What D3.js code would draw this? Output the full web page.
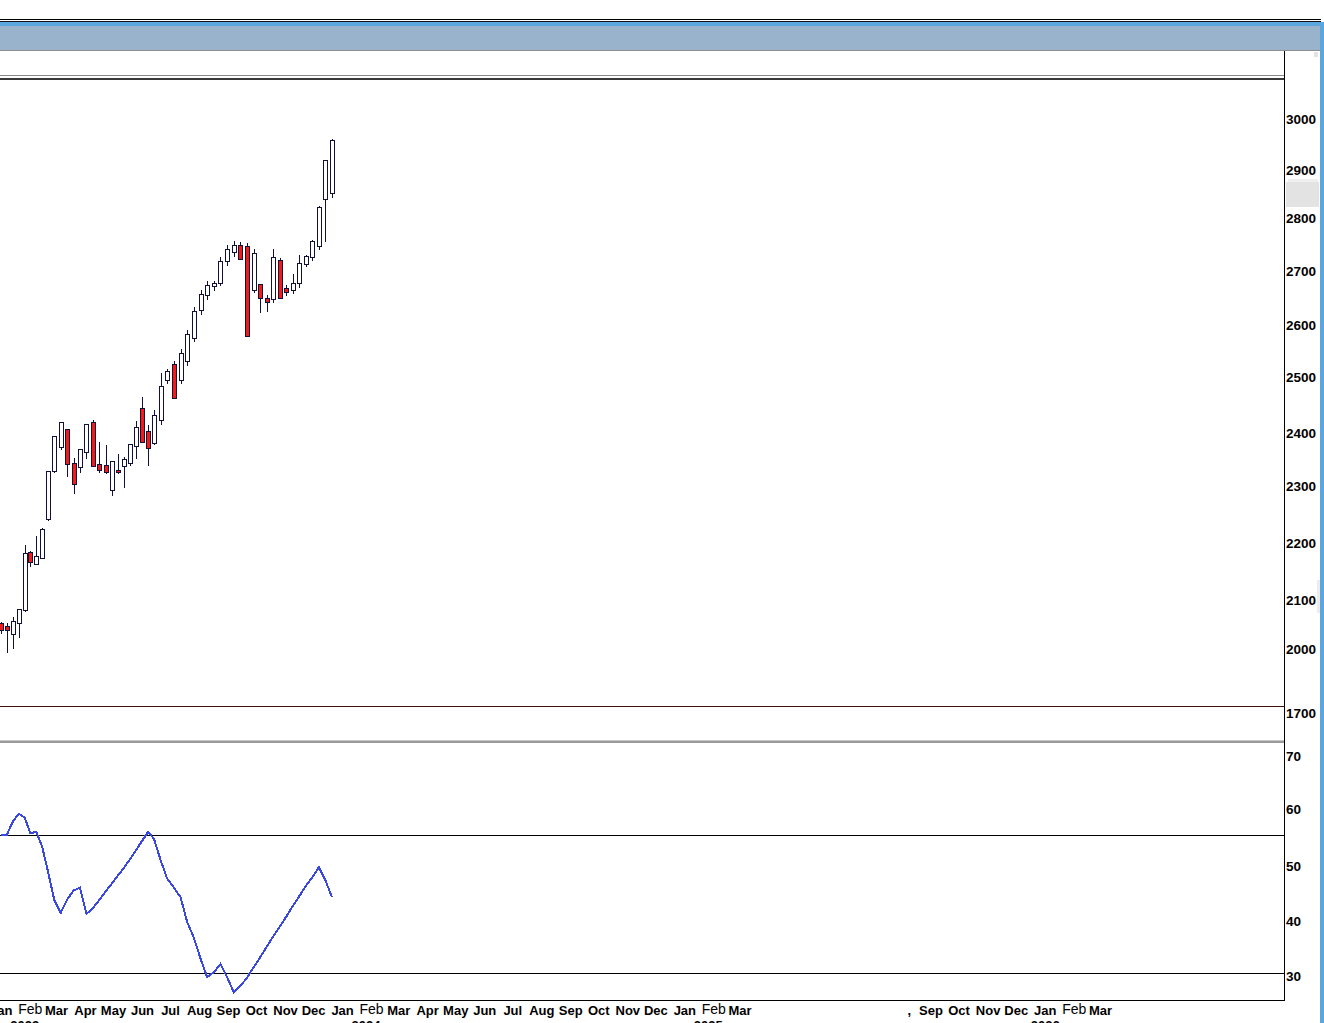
<!DOCTYPE html>
<html>
<head>
<meta charset="utf-8">
<script src="https://cdn.jsdelivr.net/npm/d3@7"></script>
<style>
  html, body { margin: 0; padding: 0; background: #fff; overflow: hidden; }
  svg { display: block; }
  text { font-family: "Liberation Sans", Arial, sans-serif; fill: #000; }
</style>
</head>
<body>
<svg id="chart" width="1324" height="1023"></svg>
<script>
// ---------------- DATA ----------------
const openVals  = [2053,2048,2032,2053,2080,2184,2163,2173,2242,2330,2373,2407,2344,2336,2365,2419,2342,2340,2294,2331,2338,2344,2375,2444,2403,2381,2423,2495,2525,2495,2531,2576,2629,2656,2673,2680,2719,2736,2749,2747,2667,2677,2651,2649,2721,2669,2666,2679,2714,2727,2747,2839,2852];
const highVals  = [2056,2053,2066,2081,2196,2186,2213,2227,2330,2394,2419,2407,2353,2370,2417,2423,2383,2378,2347,2361,2356,2379,2422,2465,2414,2441,2508,2516,2532,2555,2592,2634,2666,2683,2683,2727,2749,2757,2755,2753,2742,2677,2656,2742,2725,2675,2695,2731,2731,2759,2825,2920,2961];
const lowVals   = [2033,1989,2002,2024,2078,2160,2163,2173,2240,2328,2371,2320,2288,2328,2354,2338,2328,2326,2286,2325,2300,2341,2354,2383,2341,2379,2417,2489,2462,2489,2524,2570,2622,2650,2667,2675,2713,2730,2723,2580,2662,2625,2627,2643,2651,2656,2660,2672,2710,2721,2742,2758,2844];
const closeVals = [2039,2039,2057,2081,2182,2166,2178,2224,2330,2394,2419,2342,2305,2370,2417,2338,2331,2328,2347,2327,2351,2379,2410,2383,2372,2432,2484,2512,2462,2547,2583,2627,2658,2675,2679,2719,2742,2749,2723,2580,2734,2651,2643,2727,2651,2662,2680,2716,2729,2757,2823,2920,2959];
const rsiVals   = [55.5,55.5,57.8,59.2,58.6,55.8,56.0,53.4,49.0,43.8,41.6,44.0,45.6,46.1,41.4,42.4,43.9,45.4,46.9,48.3,49.7,51.2,52.8,54.4,56.0,54.8,51.0,47.7,46.1,44.4,39.9,37.1,33.3,29.9,30.8,32.3,29.9,27.2,28.3,29.8,31.7,33.5,35.4,37.3,39.1,40.9,42.8,44.6,46.4,48.0,49.8,47.4,44.4];
const rsiLevels = [55.4, 30.6];

const priceTicks = [3000,2900,2800,2700,2600,2500,2400,2300,2200,2100,2000,1700];
const rsiTicks   = [70,60,50,40,30];

const monthDates  = ["2023-01-01","2023-02-01","2023-03-01","2023-04-01","2023-05-01","2023-06-01","2023-07-01","2023-08-01","2023-09-01","2023-10-01","2023-11-01","2023-12-01",
                     "2024-01-01","2024-02-01","2024-03-01","2024-04-01","2024-05-01","2024-06-01","2024-07-01","2024-08-01","2024-09-01","2024-10-01","2024-11-01","2024-12-01",
                     "2025-01-01","2025-02-01","2025-03-01","2025-08-11","2025-09-01","2025-10-01","2025-11-01","2025-12-01","2026-01-01","2026-02-01","2026-03-01"];
const monthLabels = ["Jan","Feb","Mar","Apr","May","Jun","Jul","Aug","Sep","Oct","Nov","Dec",
                     "Jan","Feb","Mar","Apr","May","Jun","Jul","Aug","Sep","Oct","Nov","Dec",
                     "Jan","Feb","Mar",",","Sep","Oct","Nov","Dec","Jan","Feb","Mar"];
const yearDates  = ["2023-01-26","2024-01-26","2025-01-26","2026-01-01"];
const yearLabels = ["2023","2024","2025","2026"];

// ---------------- SCALES ----------------
const parse = d3.utcParse("%Y-%m-%d");
const xC = d3.scaleLinear().domain([0, 8, 18, 25, 39, 52]).range([1, 48, 112, 154, 247, 332]);
const xT = d3.scaleUtc()
  .domain([parse("2023-01-01"), parse("2025-03-01"), parse("2025-09-01"), parse("2026-03-01")])
  .range([1.3, 740, 931, 1100.5]);
const yP = d3.scaleLinear()
  .domain([1700,2000,2100,2200,2300,2400,2500,2600,2700,2800,2900,3000])
  .range([713.3,649.3,600,543,486.7,433,377.3,325.7,271.7,218,170,119.3]);
const yR = d3.scaleLinear()
  .domain([20,30,40,50,60,70])
  .range([1031.7,976.7,921.7,866,809.3,756.7]);

const svg = d3.select("#chart");
const W = 1324, axisX = 1284;

// ---------------- FRAME ----------------
svg.append("rect").attr("x",0).attr("y",0).attr("width",W).attr("height",1023).attr("fill","#fff");
svg.append("rect").attr("x",0).attr("y",19).attr("width",1321).attr("height",1).attr("fill","#000");
svg.append("rect").attr("x",0).attr("y",21).attr("width",1321).attr("height",1).attr("fill","#111");
svg.append("rect").attr("x",0).attr("y",22).attr("width",W).attr("height",4).attr("fill","#5ba6de");
svg.append("rect").attr("x",0).attr("y",26).attr("width",1320).attr("height",24).attr("fill","#99b3cd");
svg.append("rect").attr("x",0).attr("y",50).attr("width",1320).attr("height",1).attr("fill","#8e8e8e");
svg.append("rect").attr("x",1320).attr("y",22).attr("width",4).attr("height",1001).attr("fill","#5ba6de");

const frame = svg.append("g").attr("shape-rendering","crispEdges");
frame.append("rect").attr("x",0).attr("y",75).attr("width",axisX).attr("height",1).attr("fill","#8a8a8a");
frame.append("rect").attr("x",0).attr("y",78).attr("width",axisX).attr("height",2).attr("fill","#3a3a3a");
frame.append("rect").attr("x",0).attr("y",706).attr("width",axisX).attr("height",1).attr("fill","#3a1208");
frame.append("rect").attr("x",0).attr("y",740).attr("width",axisX).attr("height",1).attr("fill","#c8c8c8");
frame.append("rect").attr("x",0).attr("y",741).attr("width",axisX).attr("height",2).attr("fill","#9a9a9a");
frame.append("rect").attr("x",0).attr("y",1000).attr("width",axisX+1).attr("height",1).attr("fill","#000");
frame.append("rect").attr("x",axisX).attr("y",51).attr("width",1).attr("height",950).attr("fill","#000");
frame.append("rect").attr("x",1314).attr("y",52).attr("width",4).attr("height",5).attr("fill","#e2e2e2");
frame.append("rect").attr("x",1288).attr("y",179).attr("width",30).attr("height",3).attr("fill","#efefef");
frame.append("rect").attr("x",1286).attr("y",182).attr("width",33).attr("height",25).attr("fill","#e3e3e3");
frame.append("rect").attr("x",1317).attr("y",580).attr("width",3).attr("height",33).attr("fill","#ececec");

frame.selectAll(".lvl").data(rsiLevels).enter().append("line")
  .attr("x1",0).attr("x2",axisX)
  .attr("y1",d => Math.round(yR(d)) + 0.5).attr("y2",d => Math.round(yR(d)) + 0.5)
  .attr("stroke","#000").attr("stroke-width",1);

// ---------------- CANDLES ----------------
const idx = d3.range(openVals.length);
const cg = svg.append("g").attr("shape-rendering","crispEdges");
cg.selectAll(".wick").data(idx).enter().append("line")
  .attr("x1", i => Math.round(xC(i)) + 0.5).attr("x2", i => Math.round(xC(i)) + 0.5)
  .attr("y1", i => Math.round(yP(highVals[i])))
  .attr("y2", i => Math.round(yP(lowVals[i])) + 1)
  .attr("stroke", "#10103a").attr("stroke-width", 1);
cg.selectAll(".body").data(idx).enter().append("rect")
  .attr("x", i => Math.round(xC(i)) - 1.5)
  .attr("width", 4)
  .attr("y", i => Math.round(yP(Math.max(openVals[i], closeVals[i]))) + 0.5)
  .attr("height", i => Math.max(1, Math.round(yP(Math.min(openVals[i], closeVals[i]))) - Math.round(yP(Math.max(openVals[i], closeVals[i])))))
  .attr("fill", i => closeVals[i] < openVals[i] ? "#f41a1a" : "#ffffff")
  .attr("stroke", "#10103a").attr("stroke-width", 1);

// ---------------- RSI LINE ----------------
const line = d3.line().x((d, i) => xC(i)).y(d => yR(d));
svg.append("path").datum(rsiVals)
  .attr("d", line)
  .attr("fill", "none")
  .attr("stroke", "#3a48e2")
  .attr("stroke-width", 2)
  .attr("shape-rendering", "crispEdges");

// ---------------- AXES TEXT ----------------
svg.append("g").selectAll("text").data(priceTicks).enter().append("text")
  .attr("x", 1286).attr("y", d => yP(d)).attr("dy", "0.35em")
  .attr("font-size", 13.5).attr("font-weight", "bold")
  .text(d => d);
svg.append("g").selectAll("text").data(rsiTicks).enter().append("text")
  .attr("x", 1286).attr("y", d => yR(d)).attr("dy", "0.35em")
  .attr("font-size", 13.5).attr("font-weight", "bold")
  .text(d => d);

svg.append("g").selectAll("text").data(monthDates).enter().append("text")
  .attr("x", d => xT(parse(d))).attr("y", (d, i) => monthLabels[i] === "Feb" ? 1014 : 1015)
  .attr("text-anchor", "middle")
  .attr("font-size", (d, i) => monthLabels[i] === "Feb" ? 14 : 13)
  .attr("font-weight", (d, i) => monthLabels[i] === "Feb" ? "normal" : "bold")
  .text((d, i) => monthLabels[i]);
svg.append("g").selectAll("text").data(yearDates).enter().append("text")
  .attr("x", d => xT(parse(d))).attr("y", 1030)
  .attr("text-anchor", "middle")
  .attr("font-size", 13).attr("font-weight", "bold")
  .text((d, i) => yearLabels[i]);
</script>
</body>
</html>
